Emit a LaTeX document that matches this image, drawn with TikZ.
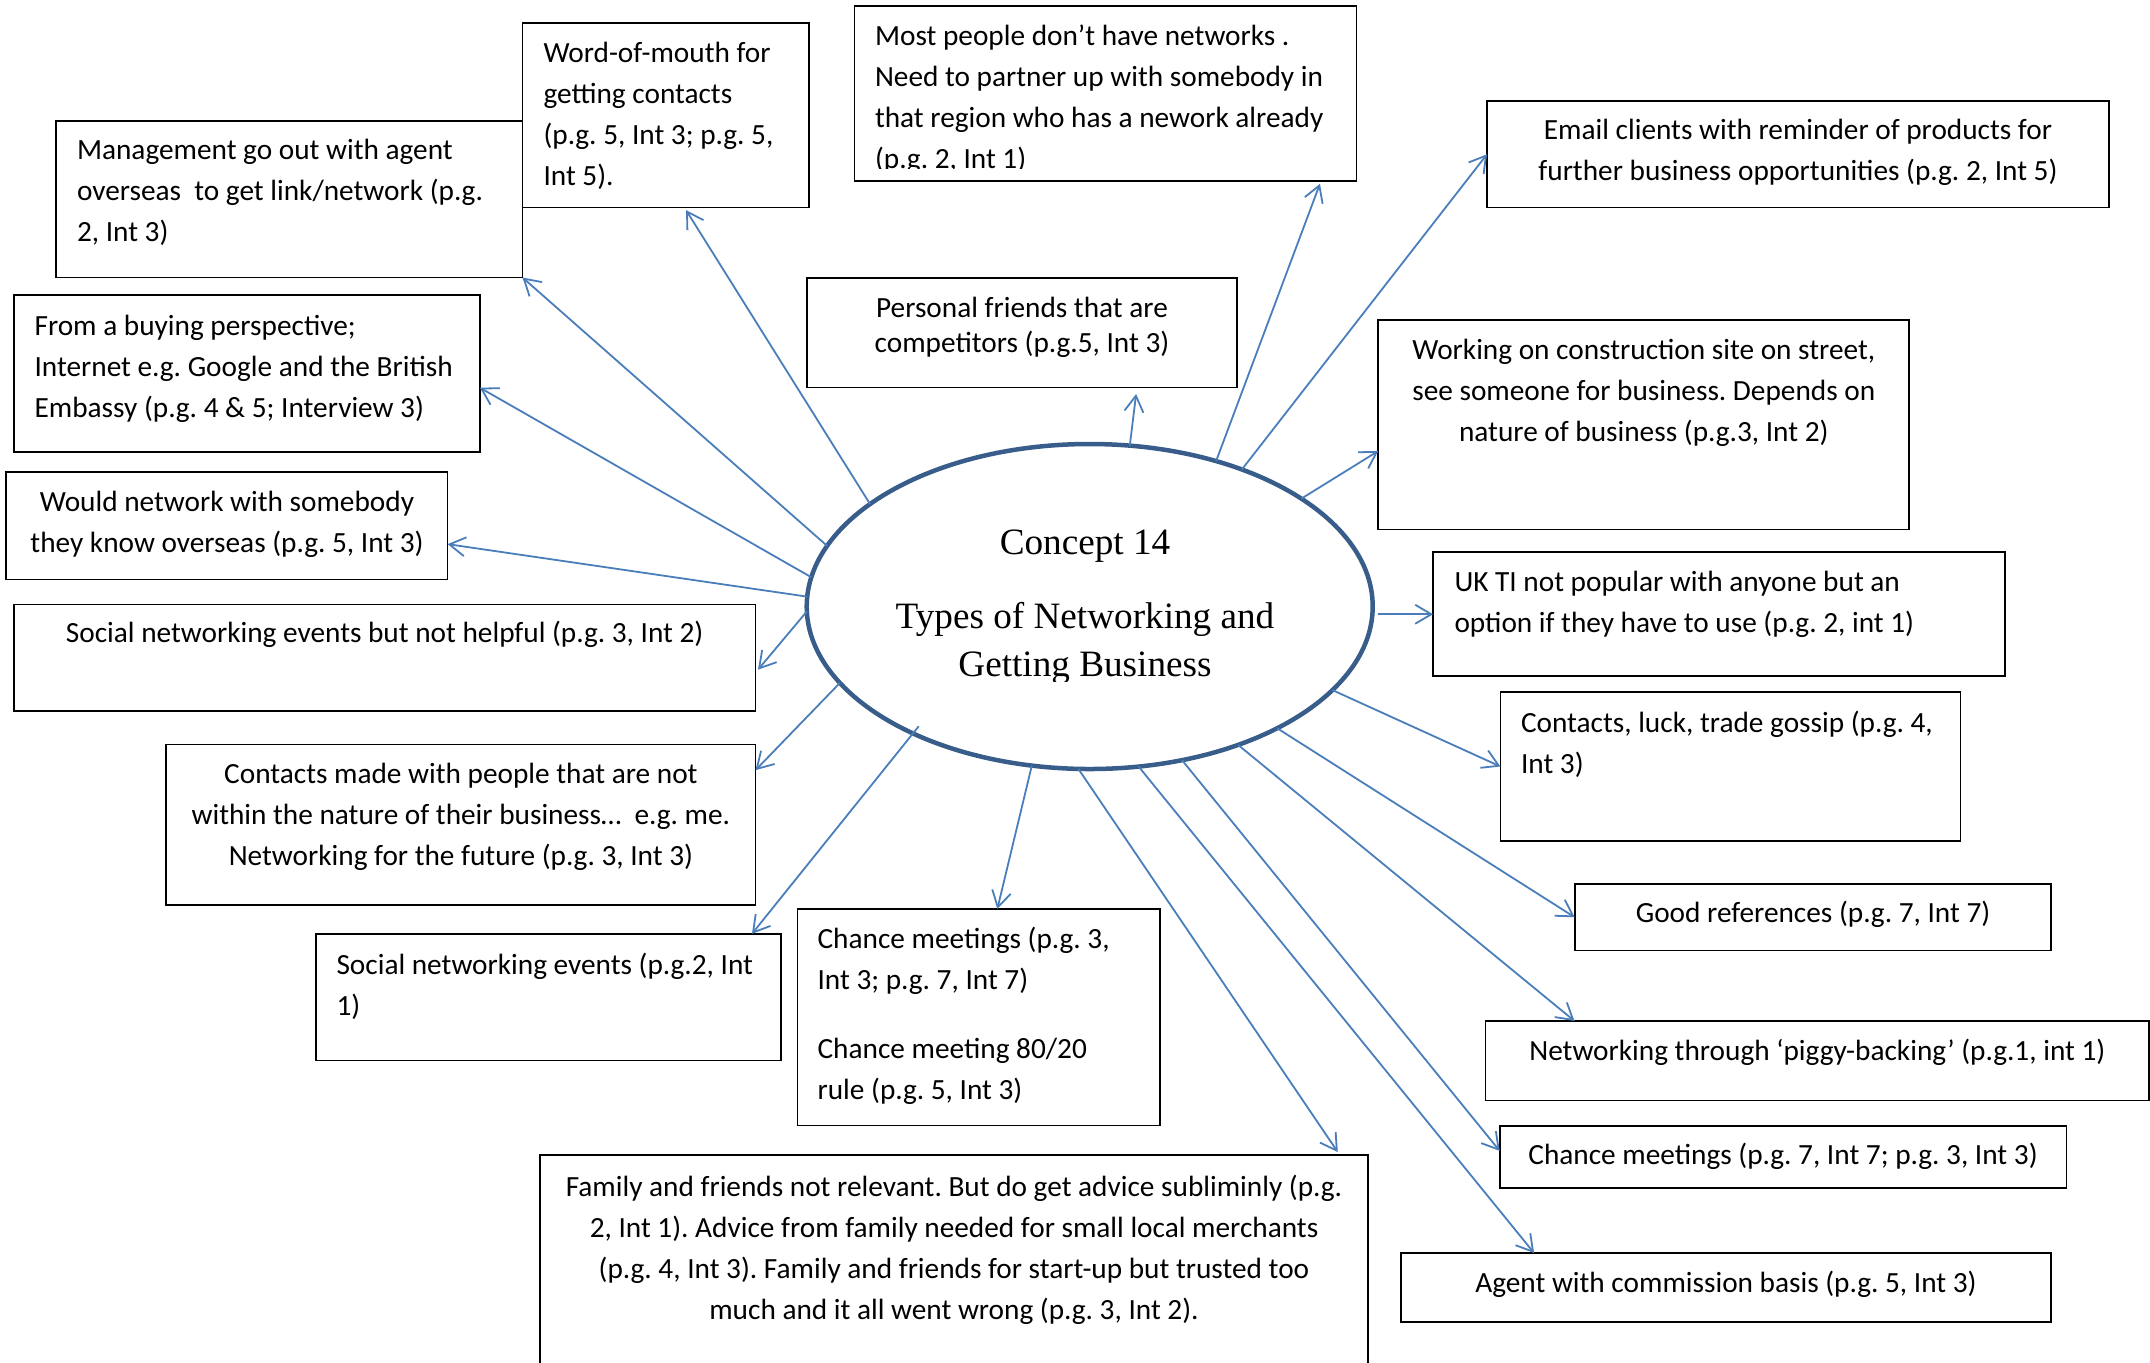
\documentclass[tikz,border=0pt]{standalone}
\usepackage{fontspec}
\setmainfont{Carlito}
\newfontfamily\serifface{Liberation Serif}
\usetikzlibrary{arrows.meta,calc,shapes.geometric}
\frenchspacing

\definecolor{arrowblue}{HTML}{4A7EBB}
\definecolor{ringblue}{HTML}{385D8A}

% strut fixing the top of the first line of every label
\newcommand\tstrut{\rule{0pt}{14.4pt}}
% rectangular box from its two corners (in px units)
\newcommand\cbox[5]{%
  \node[box, anchor=north west,
        minimum width={(#4-#2)*0.5pt},
        minimum height={(#5-#3)*0.5pt}] (#1) at (#2,#3) {};}

\begin{document}
\begin{tikzpicture}[x=0.5pt,y=-0.5pt,
  box/.style={draw=black, line width=0.85pt, fill=white, inner sep=0pt, outer sep=0pt},
  lbl/.style={inner sep=0pt, outer sep=0pt, text=black, yshift=-4.5pt,
              font=\fontsize{14.65}{20.55}\selectfont,
              execute at begin node=\tstrut},
  lleft/.style={lbl, anchor=north west, align=left},
  lcenter/.style={lbl, anchor=north, align=center},
  single/.style={yshift=4.5pt},
  ring/.style={ellipse, draw=ringblue, line width=2.25pt, fill=white,
               inner sep=0pt, outer sep=0pt,
               minimum width=283pt, minimum height=162.5pt},
  ctext/.style={inner sep=0pt, anchor=base,
                font=\serifface\fontsize{18.6}{24}\selectfont},
  arr/.style={draw=arrowblue, line width=0.9pt,
              -{Straight Barb[length=8pt,width=9.5pt]}}
]
\useasboundingbox (0,0) rectangle (2150,1362);

% ---------- boxes ----------
\cbox{A}{56.2}{120.7}{522.5}{277.5}
\cbox{B}{522.6}{23.2}{808.8}{207.6}
\cbox{C}{854.4}{5.8}{1356.6}{180.8}
\cbox{D}{1487}{100.9}{2109.3}{207.6}
\cbox{E}{14}{295}{479.8}{452}
\cbox{F}{806.7}{277.7}{1237.3}{387.5}
\cbox{G}{1378.3}{320}{1909.3}{529.5}
\cbox{H}{6.3}{472.3}{447.6}{579.5}
\cbox{I}{1433}{552.2}{2004.8}{676.3}
\cbox{J}{14}{604.5}{755.5}{711.3}
\cbox{K}{1500.4}{691.8}{1960.6}{841.2}
\cbox{L}{166.3}{744.5}{755.5}{904.8}
\cbox{M}{1574.7}{883.9}{2051}{950.6}
\cbox{N}{315.7}{933.8}{780.8}{1060.5}
\cbox{O}{797.6}{908.9}{1160.1}{1125.5}
\cbox{P}{1485.6}{1021}{2149}{1100.5}
\cbox{Q}{1499.7}{1126}{2066.5}{1188.2}
\cbox{R}{540.2}{1155}{1367.8}{1380}
\cbox{S}{1400.8}{1253}{2051}{1322}

% ---------- box texts ----------
\node[lleft] (tA) at (77,129.7) {Management go out with agent\\overseas\ \ to get link/network (p.g.\\2, Int 3)};
\node[lleft] (tB) at (543.5,33.2) {Word-of-mouth for\\getting contacts\\(p.g. 5, Int 3; p.g. 5,\\Int 5).};
\begin{scope}
  \clip (C.north west) rectangle ($(C.south east)+(0,-12)$);
  \node[lleft] (tC) at (875,15.5) {Most people don’t have networks .\\Need to partner up with somebody in\\that region who has a nework already\\(p.g. 2, Int 1)};
\end{scope}
\node[lcenter] (tD) at (1798,110.5) {Email clients with reminder of products for\\further business opportunities (p.g. 2, Int 5)};
\node[lleft] (tE) at (34.6,305.7) {From a buying perspective;\\Internet e.g. Google and the British\\Embassy (p.g. 4 \& 5; Interview 3)};
\node[lcenter, font=\fontsize{14.65}{17.85}\selectfont] (tF) at (1022,287.7) {Personal friends that are\\competitors (p.g.5, Int 3)};
\node[lcenter] (tG) at (1643.8,330.2) {Working on construction site on street,\\see someone for business. Depends on\\nature of business (p.g.3, Int 2)};
\node[lcenter] (tH) at (227,482.2) {Would network with somebody\\they know overseas (p.g. 5, Int 3)};
\node[lleft] (tI) at (1454.5,562.2) {UK TI not popular with anyone but an\\option if they have to use (p.g. 2, int 1)};
\node[lcenter, single] (tJ) at (384.7,613.9) {Social networking events but not helpful (p.g. 3, Int 2)};
\node[lleft] (tK) at (1521,701.7) {Contacts, luck, trade gossip (p.g. 4,\\Int 3)};
\node[lcenter] (tL) at (460.9,753.7) {Contacts made with people that are not\\within the nature of their business…\ \ e.g. me.\\Networking for the future (p.g. 3, Int 3)};
\node[lcenter, single] (tM) at (1813,893.7) {Good references (p.g. 7, Int 7)};
\node[lleft] (tN) at (336.5,943.7) {Social networking events (p.g.2, Int\\1)};
\node[lleft] (tO) at (817.6,918.4) {Chance meetings (p.g. 3,\\Int 3; p.g. 7, Int 7)\\[13.75pt]Chance meeting 80/20\\rule (p.g. 5, Int 3)};
\node[lcenter, single] (tP) at (1817.3,1031.2) {Networking through ‘piggy-backing’ (p.g.1, int 1)};
\node[lcenter, single] (tQ) at (1783,1135.7) {Chance meetings (p.g. 7, Int 7; p.g. 3, Int 3)};
\node[lcenter] (tR) at (954,1165.7) {Family and friends not relevant. But do get advice subliminly (p.g.\\2, Int 1). Advice from family needed for small local merchants\\(p.g. 4, Int 3). Family and friends for start-up but trusted too\\much and it all went wrong (p.g. 3, Int 2).};
\node[lcenter, single] (tS) at (1726,1263.2) {Agent with commission basis (p.g. 5, Int 3)};

% ---------- central concept ----------
\node[ring] (c) at (1089.7,606.5) {};
\begin{scope}
  \clip (810,450) rectangle (1370,681.5);
  \node[ctext] (c1) at (1085,554) {Concept 14};
  \node[ctext] (c2) at (1085,628.3) {Types of Networking and};
  \node[ctext] (c3) at (1085,676.7) {Getting Business};
\end{scope}

% ---------- connectors ----------
\draw[arr] (c.167) -- (A.south east);
\draw[arr] (c.174) -- ($(E.north east)!0.59!(E.south east)$);
\draw[arr] (c.155) -- ($(B.south west)!0.571!(B.south east)+(0,2.5)$);
\draw[arr] (c.178) -- ($(H.north east)!0.67!(H.south east)$);
\draw[arr] (c.181.5) -- ($(J.north east)!0.61!(J.south east)+(2.5,0)$);
\draw[arr] (c.76) -- ($(F.south west)!0.765!(F.south east)+(0,6.5)$);
\draw[arr] (c.49.8) -- ($(C.south west)!0.927!(C.south east)+(0,3)$);
\draw[arr] (c.42.5) -- (D.west);
\draw[arr] (c.27.4) -- ($(G.north west)!0.625!(G.south west)$);
\draw[arr, shorten <=2.5pt] (c.east |- I.west) -- (I.west);
\draw[arr] (c.341) -- (K.west);
\draw[arr] (c.327.3) -- (M.west);
\draw[arr] (c.317.3) -- ($(P.north west)!0.134!(P.north east)$);
\draw[arr] (c.301.9) -- ($(Q.north west)!0.40!(Q.south west)$);
\draw[arr] (c.287.5) -- ($(S.north west)!0.205!(S.north east)$);
\draw[arr] (c.266) -- ($(R.north west)!0.9637!(R.north east)+(0,-3)$);
\draw[arr] (c.197.1) -- ($(L.north east)!0.16!(L.south east)$);
\draw[arr] ($(c.center)!0.953!(c.215.4)$) -- ($(N.north west)!0.938!(N.north east)$);
\draw[arr] (c.250.9) -- ($(O.north west)!0.551!(O.north east)$);
\end{tikzpicture}
\end{document}
